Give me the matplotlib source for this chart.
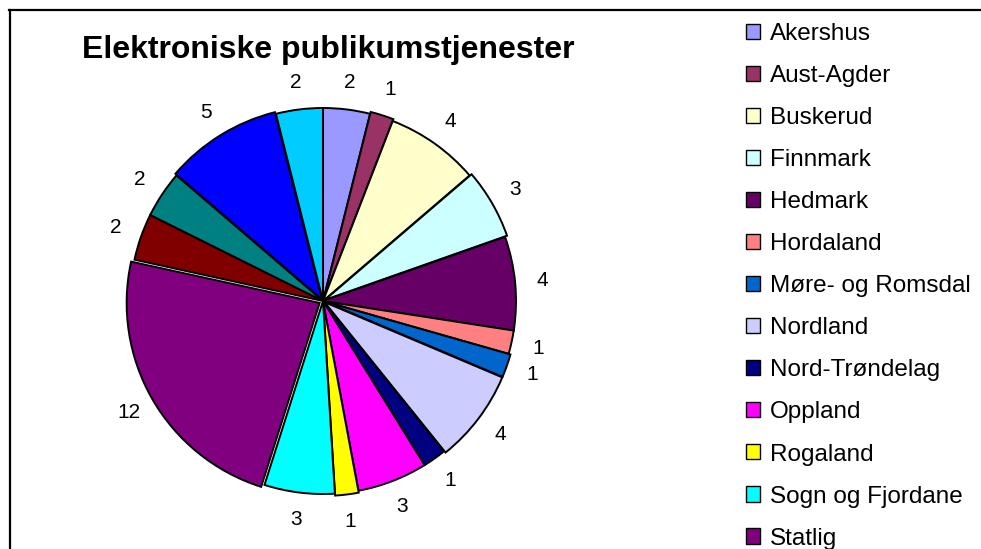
import matplotlib
matplotlib.use('Agg')
import matplotlib.pyplot as plt
from matplotlib.lines import Line2D
from matplotlib.patches import Patch

plt.rcParams['font.family'] = ['Liberation Sans', 'DejaVu Sans']

# data
fylker = ['Akershus', 'Aust-Agder', 'Buskerud', 'Finnmark', 'Hedmark', 'Hordaland',
          'Møre- og Romsdal', 'Nordland', 'Nord-Trøndelag', 'Oppland', 'Rogaland',
          'Sogn og Fjordane', 'Statlig', 'Sør-Trøndelag', 'Telemark', 'Troms', 'Vest-Agder']
antall = [2, 1, 4, 3, 4, 1, 1, 4, 1, 3, 1, 3, 12, 2, 2, 5, 2]
farger = ['#9999FF', '#993366', '#FFFFCC', '#CCFFFF', '#660066', '#FF8080',
          '#0066CC', '#CCCCFF', '#000080', '#FF00FF', '#FFFF00', '#00FFFF',
          '#800080', '#800000', '#008080', '#0000FF', '#00CCFF']

W, H = 981, 549
R = 193
# small gaps between some slices, as in the original (fraction of radius)
utskyv = [0, 0.01, 0, 0.012, 0, 0, 0.01, 0.01, 0, 0, 0.01, 0, 0.02, 0, 0, 0.01, 0]

fig = plt.figure(figsize=(W / 100, H / 100), dpi=100)
ax = fig.add_axes([0, 0, 1, 1])

wedges, texts = ax.pie(antall, colors=farger, labels=[str(v) for v in antall],
                       startangle=90, counterclock=False,
                       explode=[e * R for e in utskyv],
                       center=(323, H - 301), radius=R, labeldistance=1.14,
                       wedgeprops=dict(edgecolor='black', linewidth=1.4),
                       textprops=dict(fontsize=15, color='black'), frame=True)
for t in texts:
    t.set_horizontalalignment('center')
    t.set_verticalalignment('center')
ax.axis('off')
ax.set_xlim(0, W)
ax.set_ylim(0, H)

fig.text(328 / W, 1 - 50 / H, 'Elektroniske publikumstjenester', fontsize=23,
         fontweight='bold', ha='center', va='center')

# outer frame (cut off on right and bottom)
fig.add_artist(Line2D([9.5 / W, 9.5 / W], [0, 1 - 10 / H], color='black', lw=1.6))
fig.add_artist(Line2D([9 / W, 1], [1 - 10 / H, 1 - 10 / H], color='black', lw=1.6))

handles = [Patch(facecolor=c, edgecolor='black', linewidth=1.0) for c in farger]
fig.legend(handles, fylker, loc='upper left', bbox_to_anchor=(746 / W, 1 - 23 / H),
           frameon=False, fontsize=17.5, labelspacing=0.825, handlelength=0.58,
           handleheight=0.58, handletextpad=0.42, borderaxespad=0, borderpad=0)

fig.savefig('out.png', dpi=100)
